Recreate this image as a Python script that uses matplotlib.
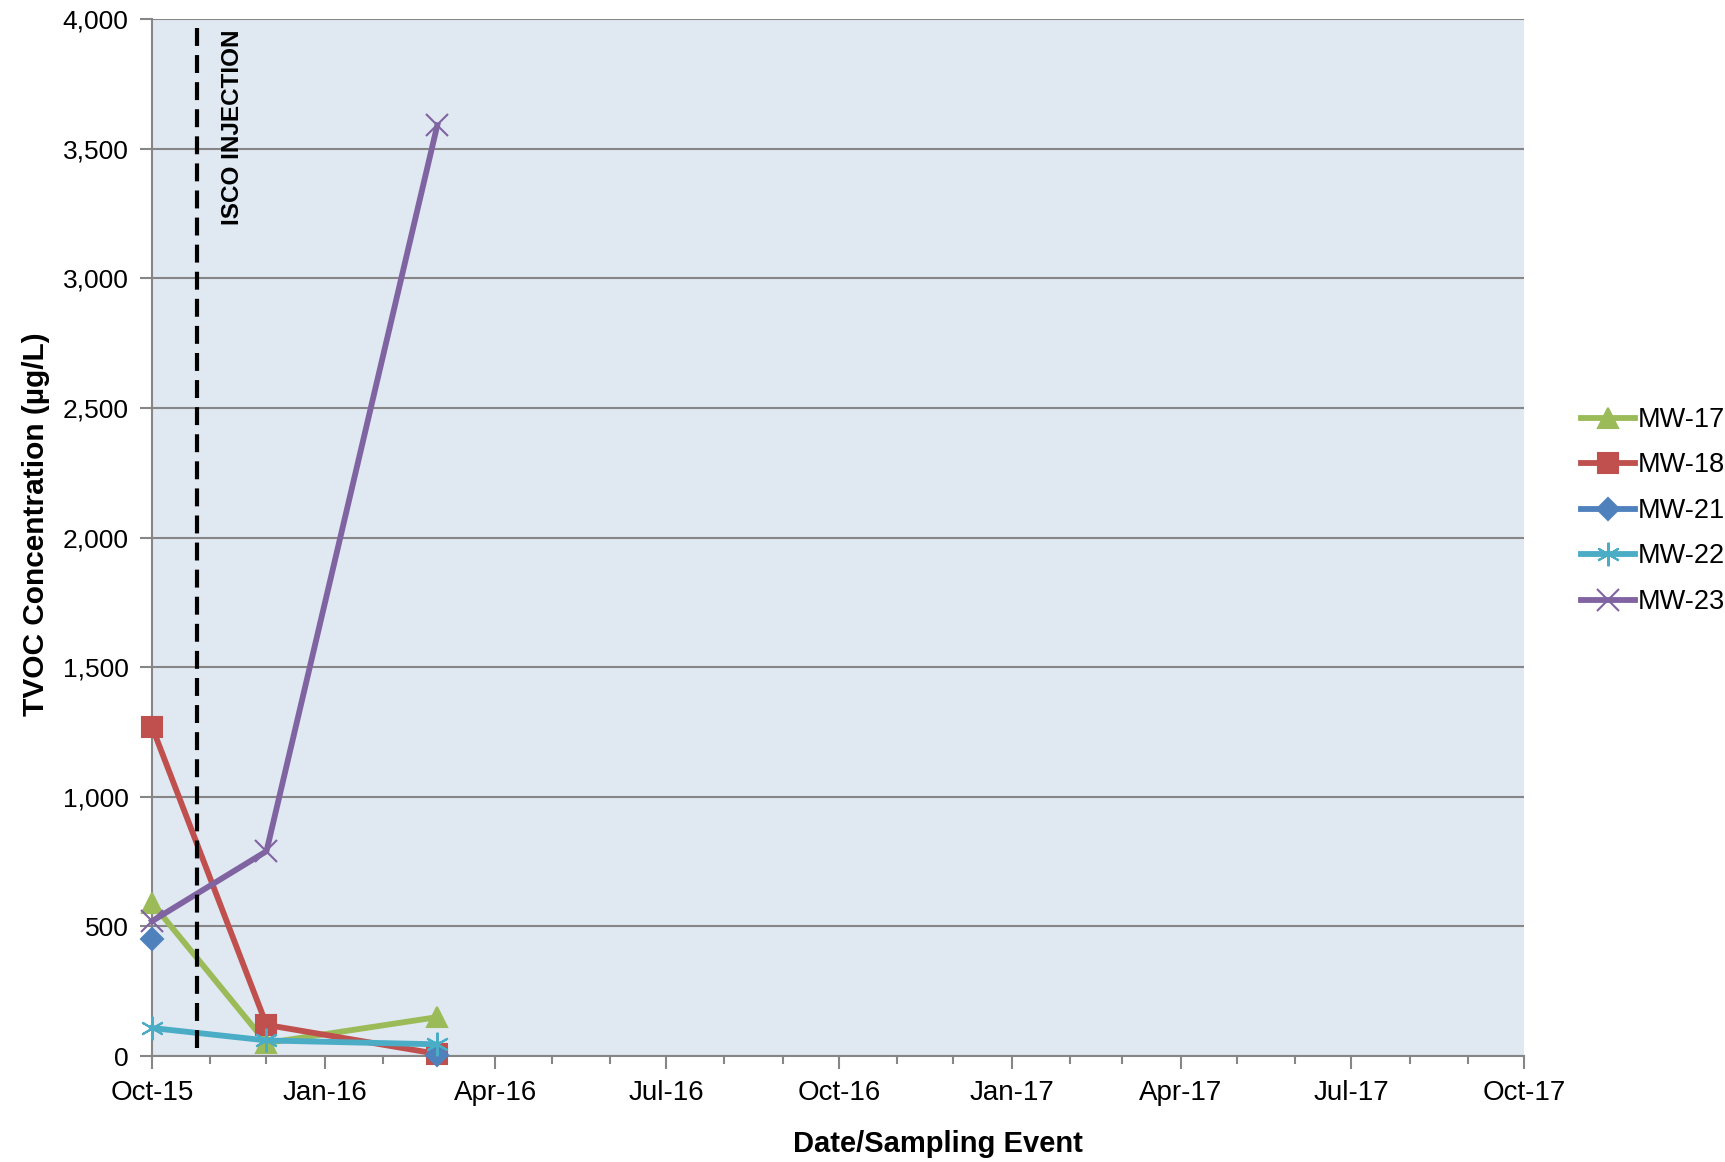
import matplotlib.pyplot as plt
import matplotlib.dates as mdates
import numpy as np
import pandas as pd

plt.rcParams['font.family'] = ['Liberation Sans', 'DejaVu Sans']

# sampling events
dates = pd.to_datetime(["2015-10-01", "2015-12-01", "2016-03-01"])
wells = ["MW-17", "MW-18", "MW-21", "MW-22", "MW-23"]
mw17 = [590, 50, 150]
mw18 = [1270, 120, 8]
mw21 = [450, np.nan, 5]
mw22 = [108, 60, 45]
mw23 = [520, 790, 3590]
injection_date = pd.Timestamp("2015-10-25")

colors = ["#9BBB59", "#C0504D", "#4F81BD", "#4BACC6", "#8064A2"]
markers = ["^", "s", "D", (6, 2, 0), "x"]
msizes = [15, 14, 11, 17, 16]

fig = plt.figure(figsize=(17.25, 11.62), dpi=100)
ax = fig.add_axes([152/1725, 1-1056/1162, (1524-152)/1725, (1056-19)/1162])
ax.set_facecolor("#E0E8F2")

series = [mw17, mw18, mw21, mw22, mw23]
for vals, name, c, m, s in zip(series, wells, colors, markers, msizes):
    ax.plot(dates, vals, color=c, lw=4.2, marker=m, ms=s, mec=c, mfc=c,
            mew=1.5, label=name, clip_on=False, zorder=3)

ax.axvline(injection_date, ymin=0.008, ymax=1, color="black", lw=3,
           dashes=(4.3, 2.2), zorder=4)
ax.text(injection_date + pd.Timedelta(days=19), 3960, "ISCO INJECTION",
        rotation=90, ha="center", va="top", fontsize=17.5, fontweight="bold")

ax.set_ylim(0, 4000)
ax.set_yticks(np.arange(0, 4001, 500))
ax.set_yticklabels([f"{v:,}" for v in range(0, 4001, 500)])
ax.set_xlim(pd.Timestamp("2015-10-01"), pd.Timestamp("2017-10-01"))
ax.xaxis.set_major_locator(mdates.MonthLocator(bymonth=[1, 4, 7, 10]))
ax.xaxis.set_minor_locator(mdates.MonthLocator())
ax.xaxis.set_major_formatter(mdates.DateFormatter("%b-%y"))

ax.grid(axis="y", color="#868686", lw=1.5)
ax.set_axisbelow(True)
for side in ["top", "right"]:
    ax.spines[side].set_visible(False)
for side in ["left", "bottom"]:
    ax.spines[side].set_color("#868686")
    ax.spines[side].set_linewidth(1.5)

ax.tick_params(axis="both", which="major", color="#868686",
               width=1.5, length=9, pad=8)
ax.tick_params(axis="x", which="major", labelsize=20)
ax.tick_params(axis="y", which="major", labelsize=19)
ax.tick_params(axis="x", which="minor", color="#868686", width=1.5, length=6)

# axis titles (centred like the original chart)
fig.text(938/1725, 1-1144/1162, "Date/Sampling Event", fontsize=21,
         fontweight="bold", ha="center", va="center")
fig.text(36/1725, 1-524/1162, "TVOC Concentration (\u00b5g/L)", fontsize=21.5,
         fontweight="bold", ha="center", va="center", rotation=90)

fig.legend(loc="center left", bbox_to_anchor=(1570/1725, 1-511/1162),
           frameon=False, fontsize=19.5, handlelength=2.0, labelspacing=0.72,
           handletextpad=0.1, borderaxespad=0)

fig.savefig("out.png", dpi=100)
